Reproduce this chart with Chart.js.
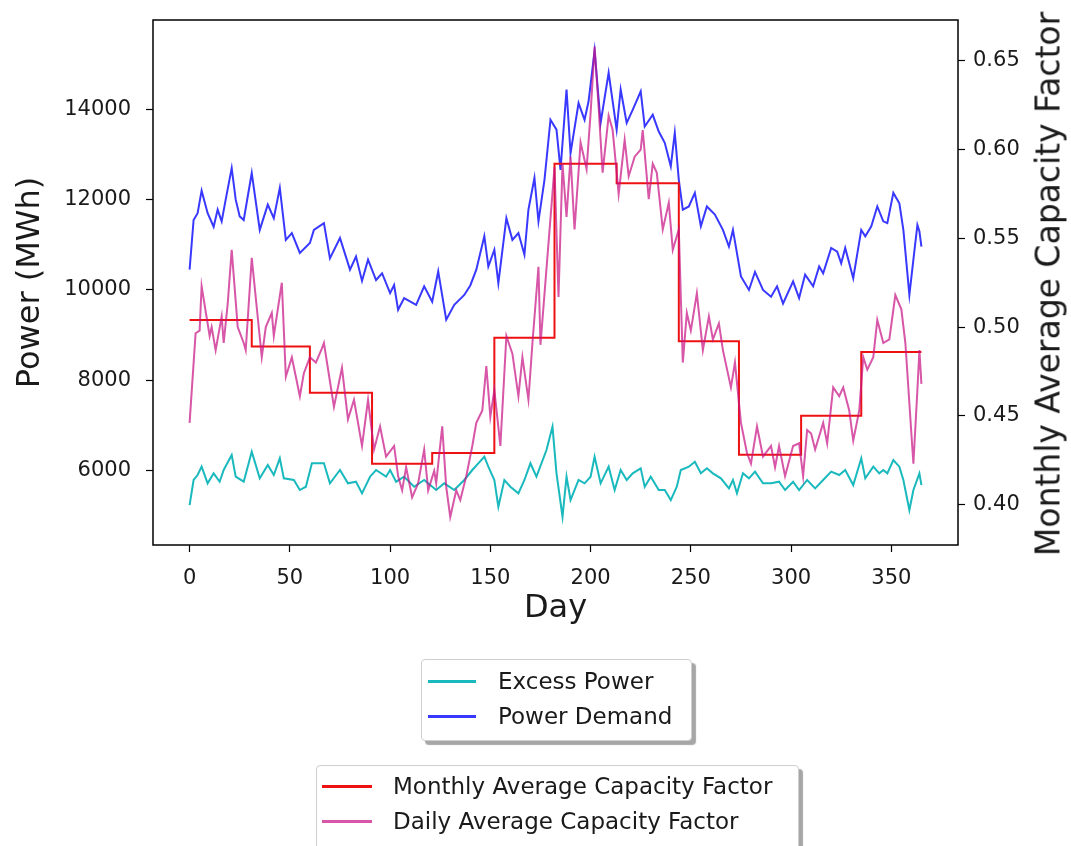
<!DOCTYPE html>
<html>
<head>
<meta charset="utf-8">
<script src="https://cdn.jsdelivr.net/npm/chart.js@4.4.1/dist/chart.umd.min.js"></script>
<style>
  html, body { margin: 0; padding: 0; background: #fff; }
  #wrap { position: relative; width: 1071px; height: 846px; overflow: hidden; font-family: 'DejaVu Sans', sans-serif; color: #1a1a1a; }
  #chart { position: absolute; left: 0; top: 0; }
  .legend { position: absolute; background: #fff; border: 1px solid #cfcfcf; border-radius: 4px; box-shadow: 4px 4px 1px rgba(0,0,0,0.35); font-size: 23px; }
  .legend .swatch { position: absolute; height: 2.5px; }
  .legend .label { position: absolute; line-height: 30px; white-space: nowrap; }
  #rightTitle { position: absolute; left: 1048px; top: 284px; transform: translate(-50%, -50%) rotate(-90deg); font-size: 33px; white-space: nowrap; }
</style>
</head>
<body>
<div id="wrap">
  <canvas id="chart" width="1071" height="846"></canvas>
  <div id="rightTitle">Monthly Average Capacity Factor</div>
</div>
<script>
// ticks
const dayTicks = [0, 50, 100, 150, 200, 250, 300, 350];
const powerTicks = [6000, 8000, 10000, 12000, 14000];
const cfTicks = [0.40, 0.45, 0.50, 0.55, 0.60, 0.65];

// Excess Power (MWh), left axis
const excessDays = [0,2,4,6,9,12,15,17,21,23,27,31,35,39,42,45,47,52,55,58,61,67,70,75,79,83,86,90,93,98,100,103,107,112,117,123,127,132,137,141,144,147,149,152,154,157,160,164,167,170,173,178,181,183,186,188,190,194,197,200,202,205,209,212,215,218,221,225,227,230,234,237,240,243,245,249,252,255,258,261,265,269,271,273,276,279,282,286,290,294,297,301,304,308,312,316,320,324,327,331,335,337,341,344,346,348,351,354,356,359,361,364,365];
const excessMWh = [5235,5790,5900,6085,5716,5938,5752,6011,6344,5863,5752,6417,5827,6122,5900,6270,5827,5790,5568,5641,6160,6160,5716,6011,5716,5752,5494,5863,6011,5863,6011,5752,5863,5641,5790,5568,5716,5568,5790,6011,6160,6306,6085,5790,5197,5790,5641,5494,5790,6160,5863,6455,6971,5938,4976,5863,5346,5790,5716,5863,6306,5716,6085,5568,6011,5790,5938,6048,5641,5863,5568,5568,5346,5641,6011,6085,6195,5938,6048,5938,5827,5605,5790,5494,5938,5827,5975,5716,5716,5752,5568,5752,5568,5790,5605,5790,5975,5900,6011,5678,6270,5827,6085,5938,6011,5938,6233,6085,5790,5124,5568,5938,5678];

// Power Demand (MWh), left axis
const demandDays = [0,2,4,6,9,12,14,16,18,21,23,25,27,31,35,39,42,45,48,51,55,60,62,67,70,75,80,83,86,89,93,96,100,102,104,107,113,117,121,124,128,132,137,140,143,147,149,152,154,158,161,164,167,169,172,174,177,180,183,185,188,190,194,197,199,202,205,209,213,215,218,221,225,227,231,234,237,240,242,244,246,249,252,255,258,262,266,269,271,275,279,282,286,290,293,296,301,304,307,311,314,316,320,323,325,327,331,335,337,340,343,346,348,351,354,356,359,361,363,364,365];
const demandMWh = [10450,11550,11700,12200,11700,11400,11780,11520,12000,12700,12000,11630,11550,12590,11330,11890,11590,12260,11110,11260,10820,11040,11330,11480,10700,11150,10450,10740,10200,10670,10220,10370,9930,10110,9560,9820,9670,10080,9740,10410,9340,9670,9890,10100,10450,11190,10520,10890,10150,11590,11110,11260,10780,11780,12480,11520,12440,13770,13550,12660,14440,13030,14140,13770,14180,15300,13700,14810,13550,14440,13700,13990,14400,13620,13880,13510,13260,12740,13480,12440,11780,11850,12150,11410,11850,11670,11330,10960,11330,10300,10000,10400,10000,9850,10080,9700,10190,9820,10340,10080,10520,10370,10930,10850,10590,10930,10260,11330,11190,11410,11850,11520,11480,12150,11920,11330,9890,10670,11440,11300,10960];

// Monthly Average Capacity Factor, right axis (value holds from each month start)
const monthStartDays = [0, 31, 60, 91, 121, 152, 182, 213, 244, 274, 305, 335, 365];
const monthlyCf = [0.504, 0.489, 0.463, 0.423, 0.429, 0.494, 0.592, 0.581, 0.492, 0.428, 0.450, 0.486, 0.486];

// Daily Average Capacity Factor, right axis
const cfDays = [0,3,5,6,10,11,13,16,17,19,21,24,27,28,31,36,38,41,42,46,48,51,55,57,60,63,66,67,72,76,79,82,86,89,92,95,98,102,104,106,108,111,114,117,119,122,123,126,128,130,133,135,138,141,143,146,148,150,152,155,158,161,164,166,169,171,174,175,182,184,186,188,190,192,195,198,200,202,204,206,209,211,214,217,219,222,225,226,229,231,233,236,239,241,244,246,248,250,253,256,259,261,264,266,270,272,275,278,280,283,286,290,292,294,297,301,304,306,308,310,312,316,318,321,324,326,329,331,334,336,338,341,343,346,349,352,355,357,361,363,364,365];
const dailyCf = [0.446,0.4965,0.498,0.523,0.495,0.500,0.487,0.506,0.491,0.513,0.5435,0.500,0.491,0.487,0.539,0.483,0.500,0.508,0.495,0.525,0.472,0.483,0.461,0.474,0.483,0.480,0.488,0.491,0.455,0.477,0.448,0.459,0.433,0.459,0.431,0.444,0.427,0.433,0.416,0.408,0.421,0.404,0.412,0.431,0.408,0.419,0.412,0.444,0.410,0.393,0.408,0.4025,0.416,0.433,0.446,0.453,0.478,0.4495,0.4645,0.433,0.495,0.485,0.461,0.483,0.459,0.491,0.534,0.490,0.590,0.517,0.592,0.562,0.596,0.555,0.604,0.589,0.6205,0.658,0.624,0.587,0.619,0.611,0.575,0.6055,0.585,0.596,0.600,0.611,0.572,0.592,0.587,0.555,0.570,0.5435,0.555,0.480,0.508,0.498,0.519,0.487,0.506,0.493,0.502,0.487,0.466,0.480,0.446,0.429,0.423,0.444,0.427,0.433,0.421,0.433,0.416,0.433,0.4345,0.416,0.442,0.440,0.431,0.446,0.4345,0.466,0.461,0.466,0.453,0.436,0.453,0.483,0.476,0.483,0.504,0.491,0.493,0.518,0.510,0.491,0.423,0.4645,0.487,0.468];

const FONT = "'DejaVu Sans', sans-serif";
const INK = '#1a1a1a';

function pts(xs, ys) {
    return xs.map((x, i) => ({ x: x, y: ys[i] }));
}

function fixTicks(list) {
    return function (axis) { axis.ticks = list.map(v => ({ value: v })); };
}

// fixed axis size, and no extra layout padding from the tick labels
function fixSize(prop, px) {
    return function (s) {
        s[prop] = px;
        s.paddingTop = 0; s.paddingBottom = 0; s.paddingLeft = 0; s.paddingRight = 0;
    };
}

const axisGrid = { display: true, drawOnChartArea: false, drawTicks: true, tickLength: 7, tickColor: '#000', tickWidth: 1.2 };

// black box around the plot area, like the matplotlib frame
const framePlugin = {
    id: 'frame',
    afterDatasetsDraw(chart) {
        const { ctx, chartArea: a } = chart;
        ctx.save();
        ctx.strokeStyle = '#000';
        ctx.lineWidth = 1.5;
        ctx.strokeRect(a.left, a.top, a.right - a.left, a.bottom - a.top);
        ctx.restore();
    }
};

const series = [
    { label: 'Excess Power', data: pts(excessDays, excessMWh), color: '#19b9bd', axis: 'y', order: 4, group: 0 },
    { label: 'Power Demand', data: pts(demandDays, demandMWh), color: 'rgba(0,0,255,0.78)', axis: 'y', order: 3, group: 0 },
    { label: 'Monthly Average Capacity Factor', data: pts(monthStartDays, monthlyCf), color: '#ee1111', axis: 'y1', order: 2, group: 1, stepped: 'before' },
    { label: 'Daily Average Capacity Factor', data: pts(cfDays, dailyCf), color: 'rgba(199,21,133,0.72)', axis: 'y1', order: 1, group: 1 }
];

const chart = new Chart(document.getElementById('chart'), {
    type: 'line',
    data: {
        datasets: series.map(s => ({
            label: s.label,
            data: s.data,
            yAxisID: s.axis,
            borderColor: s.color,
            backgroundColor: s.color,
            borderWidth: 2,
            pointRadius: 0,
            tension: 0,
            stepped: s.stepped || false,
            order: s.order
        }))
    },
    options: {
        responsive: false,
        animation: false,
        devicePixelRatio: 1,
        layout: { padding: { left: 0, right: 0, top: 20, bottom: 211 } },
        plugins: { legend: { display: false }, tooltip: { enabled: false } },
        scales: {
            x: {
                type: 'linear',
                position: 'bottom',
                min: -18.25,
                max: 383.25,
                afterBuildTicks: fixTicks(dayTicks),
                afterFit: fixSize('height', 90),
                grid: axisGrid,
                border: { display: false },
                ticks: { color: INK, font: { family: FONT, size: 21 }, padding: 14, maxRotation: 0 },
                title: { display: true, text: 'Day', color: INK, font: { family: FONT, size: 32 }, padding: { top: 0, bottom: 7 } }
            },
            y: {
                type: 'linear',
                position: 'left',
                min: 4350,
                max: 15980,
                afterBuildTicks: fixTicks(powerTicks),
                afterFit: fixSize('width', 153),
                grid: axisGrid,
                border: { display: false },
                ticks: { color: INK, font: { family: FONT, size: 21 }, padding: 15, callback: v => String(v) },
                title: { display: true, text: 'Power (MWh)', color: INK, font: { family: FONT, size: 32 }, padding: { top: 11, bottom: 0 } }
            },
            y1: {
                type: 'linear',
                position: 'right',
                min: 0.3772,
                max: 0.673,
                afterBuildTicks: fixTicks(cfTicks),
                afterFit: fixSize('width', 113),
                grid: axisGrid,
                border: { display: false },
                ticks: { color: INK, font: { family: FONT, size: 21 }, padding: 8, callback: v => v.toFixed(2) }
            }
        }
    },
    plugins: [framePlugin]
});

// legends as two shadowed boxes under the plot, as in the original
const legendBoxes = [
    { group: 0, left: 421, top: 659, width: 269, height: 80, rows: [21, 56], swatchX: 6, swatchW: 48, textX: 76 },
    { group: 1, left: 316, top: 765, width: 481, height: 84, rows: [20, 55], swatchX: 5, swatchW: 50, textX: 76 }
];

const wrap = document.getElementById('wrap');
legendBoxes.forEach(box => {
    const el = document.createElement('div');
    el.className = 'legend';
    el.style.left = box.left + 'px';
    el.style.top = box.top + 'px';
    el.style.width = box.width + 'px';
    el.style.height = box.height + 'px';
    series.filter(s => s.group === box.group).forEach((s, i) => {
        const sw = document.createElement('div');
        sw.className = 'swatch';
        sw.style.left = box.swatchX + 'px';
        sw.style.width = box.swatchW + 'px';
        sw.style.top = (box.rows[i] - 1) + 'px';
        sw.style.background = s.color;
        const lb = document.createElement('div');
        lb.className = 'label';
        lb.style.left = box.textX + 'px';
        lb.style.top = (box.rows[i] - 15) + 'px';
        lb.textContent = s.label;
        el.appendChild(sw);
        el.appendChild(lb);
    });
    wrap.appendChild(el);
});
</script>
</body>
</html>
